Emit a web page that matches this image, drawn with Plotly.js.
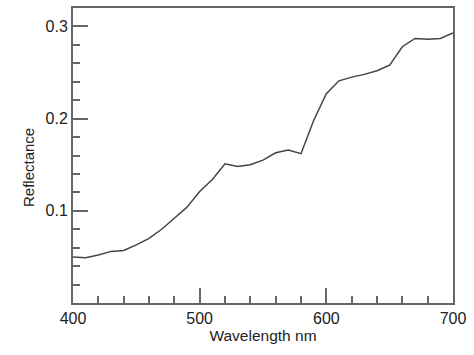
<!DOCTYPE html>
<html>
<head>
<meta charset="utf-8">
<script src="https://cdn.plot.ly/plotly-3.0.1.min.js"></script>
<style>html,body{margin:0;padding:0;background:#fff;}#chart{width:474px;height:355px;}</style>
</head>
<body>
<div id="chart"></div>
<script>
const wavelength = [400,410,420,430,440,450,460,470,480,490,500,510,520,530,540,550,560,570,580,590,600,610,620,630,640,650,660,670,680,690,700];
const reflectance = [0.050,0.049,0.052,0.056,0.057,0.063,0.070,0.080,0.092,0.104,0.121,0.134,0.151,0.148,0.150,0.155,0.163,0.166,0.162,0.198,0.227,0.241,0.245,0.248,0.252,0.258,0.278,0.287,0.286,0.287,0.293];
const xTicks = [400,500,600,700];
const yTicks = [0.1,0.2,0.3];
const yTickText = ['0.1','0.2','0.3'];

const fontFam = '"Liberation Sans", Arial, sans-serif';
const tickCol = '#666666';

const layout = {
  width: 474, height: 355,
  margin: {l: 73, r: 21, t: 8, b: 52},
  paper_bgcolor: '#fff', plot_bgcolor: '#fff',
  showlegend: false,
  xaxis: {
    range: [400, 700], tickmode: 'array', tickvals: xTicks,
    showline: true, mirror: true, linecolor: tickCol, linewidth: 2,
    ticks: 'inside', ticklen: 15, tickwidth: 2, tickcolor: tickCol,
    minor: {tickmode: 'linear', tick0: 400, dtick: 20, ticks: 'inside', ticklen: 7, tickwidth: 2, tickcolor: tickCol, showgrid: false},
    showgrid: false, zeroline: false,
    tickfont: {family: fontFam, size: 16, color: '#222'},
    title: {text: 'Wavelength nm', font: {family: fontFam, size: 15.5, color: '#222'}, standoff: 3}
  },
  yaxis: {
    range: [0, 0.32], tickmode: 'array', tickvals: yTicks, ticktext: yTickText,
    showline: true, mirror: true, linecolor: tickCol, linewidth: 2,
    ticks: 'inside', ticklen: 15, tickwidth: 2, tickcolor: tickCol,
    minor: {tickmode: 'linear', tick0: 0, dtick: 0.02, ticks: 'inside', ticklen: 7, tickwidth: 2, tickcolor: tickCol, showgrid: false},
    showgrid: false, zeroline: false,
    tickfont: {family: fontFam, size: 16, color: '#222'}
  },
  annotations: [{
    text: 'Reflectance', textangle: -90, showarrow: false,
    xref: 'paper', yref: 'paper', x: (28 - 73) / 380, y: (303 - 168) / 295,
    xanchor: 'center', yanchor: 'middle',
    font: {family: fontFam, size: 15, color: '#222'}
  }]
};

Plotly.newPlot('chart', [
  {x: wavelength, y: reflectance, type: 'scatter', mode: 'lines', line: {color: '#444', width: 1.5}}
], layout, {staticPlot: true, displayModeBar: false});
</script>
</body>
</html>
